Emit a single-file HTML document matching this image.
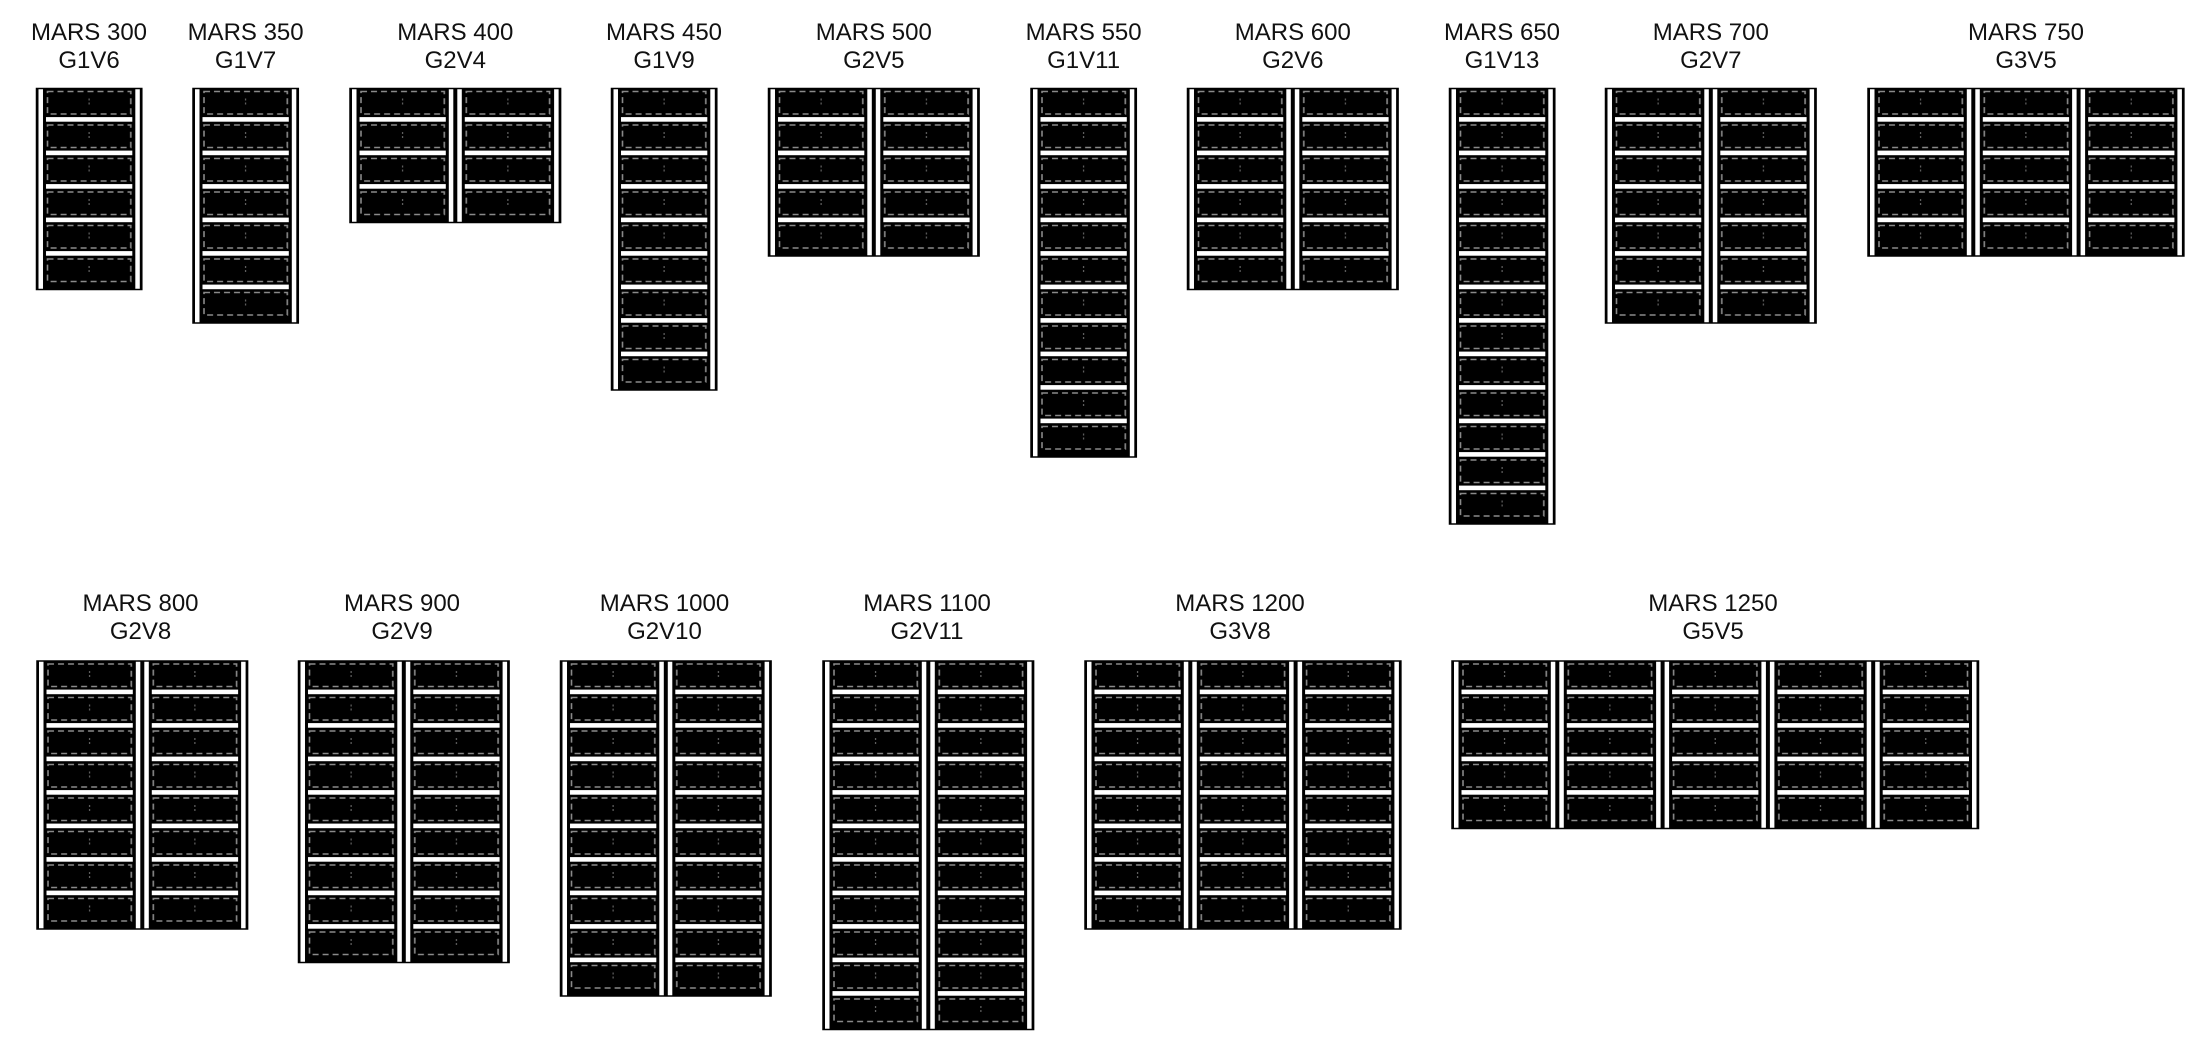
<!DOCTYPE html>
<html><head><meta charset="utf-8"><style>
html,body{margin:0;padding:0;background:#fff;width:2208px;height:1056px;overflow:hidden}
svg{display:block}
text{font-family:"Liberation Sans",Arial,sans-serif;font-size:24px;fill:#111;text-anchor:middle}
</style></head><body>
<svg width="2208" height="1056" viewBox="0 0 2208 1056" xmlns="http://www.w3.org/2000/svg">
<defs>
<pattern id="pr" patternUnits="userSpaceOnUse" width="105.3" height="33.5">
<rect x="0" y="0" width="105.3" height="33.5" fill="#000"/>
<rect x="2" y="0" width="4.5" height="33.5" fill="#fff"/>
<rect x="98.8" y="0" width="4.5" height="33.5" fill="#fff"/>
<rect x="11" y="3" width="83.3" height="22.5" fill="none" stroke="#8a8a8a" stroke-width="1.6" stroke-dasharray="6,4"/>
<line x1="52.6" y1="10" x2="52.6" y2="18" stroke="#777" stroke-width="1" stroke-dasharray="2,2"/>
</pattern>
<pattern id="pb" patternUnits="userSpaceOnUse" width="105.3" height="33.5">
<rect x="9.5" y="28.6" width="86.3" height="4.6" fill="#fff"/>
</pattern>
</defs>

<g transform="translate(36.5,88.5)"><rect width="105.3" height="201" fill="url(#pr)"/><rect width="105.3" height="167.5" fill="url(#pb)"/><rect width="105.3" height="201" fill="none" stroke="#000" stroke-width="1.5"/></g>
<text x="89" y="40">MARS 300</text><text x="89" y="68">G1V6</text>

<g transform="translate(193,88.5)"><rect width="105.3" height="234.5" fill="url(#pr)"/><rect width="105.3" height="201" fill="url(#pb)"/><rect width="105.3" height="234.5" fill="none" stroke="#000" stroke-width="1.5"/></g>
<text x="245.6" y="40">MARS 350</text><text x="245.6" y="68">G1V7</text>

<g transform="translate(350,88.5)"><rect width="210.6" height="134" fill="url(#pr)"/><rect width="210.6" height="100.5" fill="url(#pb)"/><rect width="210.6" height="134" fill="none" stroke="#000" stroke-width="1.5"/></g>
<text x="455.3" y="40">MARS 400</text><text x="455.3" y="68">G2V4</text>

<g transform="translate(611.5,88.5)"><rect width="105.3" height="301.5" fill="url(#pr)"/><rect width="105.3" height="268" fill="url(#pb)"/><rect width="105.3" height="301.5" fill="none" stroke="#000" stroke-width="1.5"/></g>
<text x="664" y="40">MARS 450</text><text x="664" y="68">G1V9</text>

<g transform="translate(768.5,88.5)"><rect width="210.6" height="167.5" fill="url(#pr)"/><rect width="210.6" height="134" fill="url(#pb)"/><rect width="210.6" height="167.5" fill="none" stroke="#000" stroke-width="1.5"/></g>
<text x="873.8" y="40">MARS 500</text><text x="873.8" y="68">G2V5</text>

<g transform="translate(1031,88.5)"><rect width="105.3" height="368.5" fill="url(#pr)"/><rect width="105.3" height="335" fill="url(#pb)"/><rect width="105.3" height="368.5" fill="none" stroke="#000" stroke-width="1.5"/></g>
<text x="1083.6" y="40">MARS 550</text><text x="1083.6" y="68">G1V11</text>

<g transform="translate(1187.5,88.5)"><rect width="210.6" height="201" fill="url(#pr)"/><rect width="210.6" height="167.5" fill="url(#pb)"/><rect width="210.6" height="201" fill="none" stroke="#000" stroke-width="1.5"/></g>
<text x="1292.8" y="40">MARS 600</text><text x="1292.8" y="68">G2V6</text>

<g transform="translate(1449.5,88.5)"><rect width="105.3" height="435.5" fill="url(#pr)"/><rect width="105.3" height="402" fill="url(#pb)"/><rect width="105.3" height="435.5" fill="none" stroke="#000" stroke-width="1.5"/></g>
<text x="1502" y="40">MARS 650</text><text x="1502" y="68">G1V13</text>

<g transform="translate(1605.5,88.5)"><rect width="210.6" height="234.5" fill="url(#pr)"/><rect width="210.6" height="201" fill="url(#pb)"/><rect width="210.6" height="234.5" fill="none" stroke="#000" stroke-width="1.5"/></g>
<text x="1710.8" y="40">MARS 700</text><text x="1710.8" y="68">G2V7</text>

<g transform="translate(1868,88.5)"><rect width="315.9" height="167.5" fill="url(#pr)"/><rect width="315.9" height="134" fill="url(#pb)"/><rect width="315.9" height="167.5" fill="none" stroke="#000" stroke-width="1.5"/></g>
<text x="2026" y="40">MARS 750</text><text x="2026" y="68">G3V5</text>

<g transform="translate(37,661)"><rect width="210.6" height="268" fill="url(#pr)"/><rect width="210.6" height="234.5" fill="url(#pb)"/><rect width="210.6" height="268" fill="none" stroke="#000" stroke-width="1.5"/></g>
<text x="140.5" y="611">MARS 800</text><text x="140.5" y="639">G2V8</text>

<g transform="translate(298.5,661)"><rect width="210.6" height="301.5" fill="url(#pr)"/><rect width="210.6" height="268" fill="url(#pb)"/><rect width="210.6" height="301.5" fill="none" stroke="#000" stroke-width="1.5"/></g>
<text x="402" y="611">MARS 900</text><text x="402" y="639">G2V9</text>

<g transform="translate(560.5,661)"><rect width="210.6" height="335" fill="url(#pr)"/><rect width="210.6" height="301.5" fill="url(#pb)"/><rect width="210.6" height="335" fill="none" stroke="#000" stroke-width="1.5"/></g>
<text x="664.5" y="611">MARS 1000</text><text x="664.5" y="639">G2V10</text>

<g transform="translate(823,661)"><rect width="210.6" height="368.5" fill="url(#pr)"/><rect width="210.6" height="335" fill="url(#pb)"/><rect width="210.6" height="368.5" fill="none" stroke="#000" stroke-width="1.5"/></g>
<text x="927" y="611">MARS 1100</text><text x="927" y="639">G2V11</text>

<g transform="translate(1085,661)"><rect width="315.9" height="268" fill="url(#pr)"/><rect width="315.9" height="234.5" fill="url(#pb)"/><rect width="315.9" height="268" fill="none" stroke="#000" stroke-width="1.5"/></g>
<text x="1240" y="611">MARS 1200</text><text x="1240" y="639">G3V8</text>

<g transform="translate(1452,661)"><rect width="526.5" height="167.5" fill="url(#pr)"/><rect width="526.5" height="134" fill="url(#pb)"/><rect width="526.5" height="167.5" fill="none" stroke="#000" stroke-width="1.5"/></g>
<text x="1713" y="611">MARS 1250</text><text x="1713" y="639">G5V5</text>
</svg>
</body></html>
